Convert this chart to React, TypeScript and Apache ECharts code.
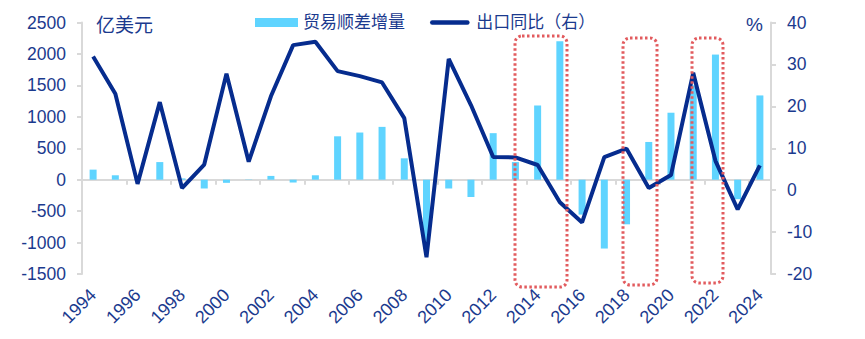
import React, { useEffect, useRef } from "react";
import * as echarts from "echarts";

const years = ["1994","1995","1996","1997","1998","1999","2000","2001","2002","2003","2004","2005","2006","2007","2008","2009","2010","2011","2012","2013","2014","2015","2016","2017","2018","2019","2020","2021","2022","2023","2024"];
const surplusChange = [160, 70, 10, 280, 20, -140, -50, -5, 60, -45, 70, 690, 750, 840, 340, -1000, -140, -275, 740, 280, 1180, 2200, -555, -1095, -710, 600, 1065, 1500, 1990, -310, 1340];
const exportYoY = [31.9, 23.0, 1.5, 21.0, 0.5, 6.1, 27.8, 6.8, 22.4, 34.6, 35.4, 28.4, 27.2, 25.7, 17.2, -16.0, 31.3, 20.3, 7.9, 7.8, 6.0, -2.9, -7.7, 7.9, 9.9, 0.5, 3.6, 28.0, 7.0, -4.6, 5.9];
const leftTicks = { min: -1500, max: 2500, interval: 500 };
const rightTicks = { min: -20, max: 40, interval: 10 };

const NAVY = "#1B3A8E";
const LINE = "#062C8E";
const BAR = "#5FD4FF";
const RED = "#E25B5E";
const FONT = "'Liberation Sans', Arial, 'Noto Sans CJK SC', sans-serif";
const LINE_ICON = "path://M0,0 M44,10 M2.5,2.5 L41.5,2.5 A2.5,2.5 0 0 1 41.5,7.5 L2.5,7.5 A2.5,2.5 0 0 1 2.5,2.5 Z";

export default function App() {
  const ref = useRef<HTMLDivElement>(null);
  useEffect(() => {
    if (!ref.current) return;
    const chart = echarts.init(ref.current, null, { renderer: "svg" });
    const axisGrey = { color: "#D9D9D9", width: 2 };
    const box = (x: number, y: number, w: number, h: number) => ({
      type: "rect",
      z: 100,
      shape: { x, y, width: w, height: h, r: 7 },
      style: { fill: "none", stroke: RED, lineWidth: 3, lineDash: [2.5, 2.5] },
    });
    chart.setOption({
      animation: false,
      textStyle: { fontFamily: FONT },
      grid: { left: 82, right: 94, top: 22.5, bottom: 65, containLabel: false },
      legend: {
        left: 250,
        top: 9,
        itemWidth: 43,
        itemHeight: 9,
        itemGap: 25,
        textStyle: { color: NAVY, fontSize: 17, fontFamily: FONT },
        data: [
          { name: "贸易顺差增量", icon: "rect" },
          { name: "出口同比（右）", icon: LINE_ICON },
        ],
      },
      xAxis: [
        {
          type: "category",
          data: years,
          position: "bottom",
          axisLine: { show: true, onZero: true, onZeroAxisIndex: 0, lineStyle: axisGrey },
          axisTick: { show: true, interval: 1, length: 5, lineStyle: axisGrey },
          axisLabel: { show: false },
          splitLine: { show: false },
        },
        {
          type: "category",
          data: years,
          position: "bottom",
          axisLine: { show: false, onZero: false },
          axisTick: { show: false },
          axisLabel: { interval: 1, rotate: 45, color: NAVY, fontSize: 18, fontFamily: FONT, margin: 18 },
          splitLine: { show: false },
        },
      ],
      yAxis: [
        {
          type: "value",
          ...leftTicks,
          axisLine: { show: true, lineStyle: axisGrey },
          axisTick: { show: true, length: 5, lineStyle: axisGrey },
          axisLabel: { color: NAVY, fontSize: 17.5, fontFamily: FONT, margin: 16, formatter: (v: number) => String(v) },
          splitLine: { show: false },
        },
        {
          type: "value",
          ...rightTicks,
          axisLine: { show: true, lineStyle: axisGrey },
          axisTick: { show: true, length: 5, lineStyle: axisGrey },
          axisLabel: { color: NAVY, fontSize: 17.5, fontFamily: FONT, margin: 16, formatter: (v: number) => String(v) },
          splitLine: { show: false },
        },
      ],
      series: [
        {
          name: "贸易顺差增量",
          type: "bar",
          xAxisIndex: 0,
          yAxisIndex: 0,
          data: surplusChange,
          barWidth: 7,
          itemStyle: { color: BAR },
        },
        {
          name: "出口同比（右）",
          type: "line",
          xAxisIndex: 0,
          yAxisIndex: 1,
          data: exportYoY,
          showSymbol: false,
          symbol: "none",
          lineStyle: { color: LINE, width: 4 },
          itemStyle: { color: LINE },
          z: 5,
        },
      ],
      graphic: [
        { type: "text", left: 96, top: 16, style: { text: "亿美元", fill: NAVY, fontSize: 19, fontFamily: FONT } },
        { type: "text", left: 746, top: 15, style: { text: "%", fill: NAVY, fontSize: 19, fontFamily: FONT } },
        box(515, 36, 52, 251),
        box(623, 38, 34, 247),
        box(692, 38, 31, 245),
      ],
    });
    return () => chart.dispose();
  }, []);
  return <div ref={ref} style={{ position: "fixed", left: 0, top: 0, width: 865, height: 339, background: "#fff" }} />;
}
